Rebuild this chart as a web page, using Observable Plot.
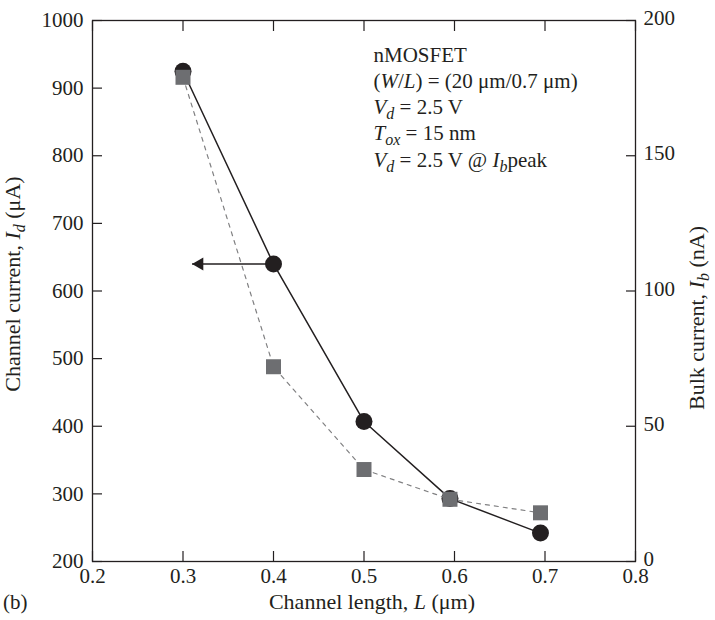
<!DOCTYPE html>
<html><head><meta charset="utf-8">
<script src="https://cdn.jsdelivr.net/npm/d3@7"></script>
<script src="https://cdn.jsdelivr.net/npm/@observablehq/plot@0.6"></script>
<style>
html,body{margin:0;padding:0;background:#fff;}
#chart{width:715px;height:620px;}
</style></head><body><div id="chart"></div>
<script>
// ---- data ----
const channelLength = [0.3, 0.4, 0.5, 0.595, 0.695];      // L (µm)
const channelCurrent = [925, 640, 407, 293, 242];         // Id (µA), left axis
const bulkCurrent = [179, 72, 34, 23, 18];                // Ib (nA), right axis
const xTicks = [0.2, 0.3, 0.4, 0.5, 0.6, 0.7, 0.8];
const idTicks = [200, 300, 400, 500, 600, 700, 800, 900, 1000];
const ibTicks = [0, 50, 100, 150, 200];
const idDomain = [200, 1000];
const ibDomain = [0, 200];
const arrowTail = 0.4, arrowTip = 0.31, arrowLevel = 640;
const annotationLines = [
  "nMOSFET",
  "(<i>W</i>/<i>L</i>) = (20 μm/0.7 μm)",
  "<i>V</i><sub>d</sub> = 2.5 V",
  "<i>T</i><sub>ox</sub> = 15 nm",
  "<i>V</i><sub>d</sub> = 2.5 V @ <i>I</i><sub>b</sub>peak"
];
const annotationX = 0.5105;
const annotationY = [938, 900, 861, 823, 784];
const xTitle = "Channel length, <i>L</i> (μm)";
const yTitle = "Channel current, <i>I</i><sub>d</sub> (μA)";
const y2Title = "Bulk current, <i>I</i><sub>b</sub> (nA)";
const panelLabel = "(b)";

// ---- derived ----
const ink = "#231f20";
const grey = "#6d6e71";
const ibToY = v => idDomain[0] + (v - ibDomain[0]) * (idDomain[1] - idDomain[0]) / (ibDomain[1] - ibDomain[0]);
const yToIb = v => ibDomain[0] + (v - idDomain[0]) * (ibDomain[1] - ibDomain[0]) / (idDomain[1] - idDomain[0]);
const idData = channelLength.map((x, i) => ({x, y: channelCurrent[i]}));
const ibData = channelLength.map((x, i) => ({x, y: ibToY(bulkCurrent[i])}));
const arrowData = [{x1: arrowTail, x2: arrowTip, y: arrowLevel}];

const plot = Plot.plot({
  width: 715, height: 620,
  marginLeft: 92, marginRight: 80, marginTop: 20, marginBottom: 59,
  style: {fontFamily: "'Liberation Serif','Times New Roman',serif", fontSize: "21px", color: ink, background: "#fff", overflow: "visible"},
  x: {domain: [0.2, 0.8]},
  y: {domain: idDomain},
  marks: [
    Plot.axisX(xTicks, {anchor: "bottom", tickSize: -10, tickPadding: 17, tickFormat: d3.format(".1f"), label: null, strokeWidth: 1.2}),
    Plot.axisX(xTicks, {anchor: "top", tickSize: -10, tickFormat: () => "", label: null, strokeWidth: 1.2}),
    Plot.axisY(idTicks, {anchor: "left", tickSize: -10, tickPadding: 19, tickFormat: d => String(d), label: null, strokeWidth: 1.2}),
    Plot.axisY(ibTicks.map(ibToY), {anchor: "right", tickSize: -10, tickFormat: () => "", label: null, strokeWidth: 1.2}),
    Plot.axisY(ibTicks.map(ibToY), {anchor: "right", tickSize: 0, tickPadding: 8, dy: -2, tickFormat: d => String(Math.round(yToIb(d))), label: null}),
    Plot.frame({stroke: ink, strokeWidth: 1.3}),
    Plot.line(idData, {x: "x", y: "y", stroke: ink, strokeWidth: 1.5}),
    Plot.link(arrowData, {x1: "x1", x2: "x2", y1: "y", y2: "y", stroke: ink, strokeWidth: 1.5}),
    Plot.dot(arrowData, {x: "x2", y: "y", symbol: "triangle", r: 4.8, fill: ink, stroke: "none", rotate: -90, dx: 7.5}),
    Plot.dot(idData, {x: "x", y: "y", r: 8.5, fill: ink, stroke: "none"}),
    Plot.line(ibData, {x: "x", y: "y", stroke: "#808082", strokeWidth: 1.2, strokeDasharray: "4,5"}),
    Plot.dot(ibData, {x: "x", y: "y", symbol: "square", r: 8.46, fill: grey, stroke: "none"}),
    Plot.text(annotationLines, {x: annotationX, y: (d, i) => annotationY[i], text: d => d, textAnchor: "start", lineAnchor: "bottom", className: "annot"})
  ]
});
document.getElementById("chart").appendChild(plot);

// rich-text helper: <i>..</i> italic, <sub>..</sub> subscript
function richText(sel, markup, subSize) {
  sel.text(null);
  const re = /(<i>(.*?)<\/i><sub>(.*?)<\/sub>)|(<i>(.*?)<\/i>)|(<sub>(.*?)<\/sub>)|([^<]+)/g;
  let m, shift = 0;
  const add = (s, italic, sub) => {
    const t = sel.append("tspan").text(s);
    if (italic) t.attr("font-style", "italic");
    const want = sub ? 5 : 0;
    if (want !== shift) { t.attr("dy", want - shift); shift = want; }
    if (sub) t.attr("font-size", subSize || "16px");
  };
  while ((m = re.exec(markup))) {
    if (m[1]) { add(m[2], true, false); add(m[3], true, true); }
    else if (m[4]) add(m[5], true, false);
    else if (m[6]) add(m[7], false, true);
    else add(m[8], false, false);
  }
}

const svg = d3.select(plot);
svg.selectAll(".annot text").each(function(d, i) {
  richText(d3.select(this), annotationLines[i]);
});
svg.selectAll(".annot text").attr("dy", null);

const titles = svg.append("g").attr("fill", ink).attr("font-size", "22px").attr("text-anchor", "middle");
richText(titles.append("text").attr("x", 372).attr("y", 609), xTitle, "16px");
titles.append("text").attr("x", 3).attr("y", 609).attr("text-anchor", "start").attr("font-size", "21px").text(panelLabel);
richText(titles.append("text").attr("transform", "translate(20,284) rotate(-90)"), yTitle, "16px");
richText(titles.append("text").attr("transform", "translate(704,318) rotate(-90)"), y2Title, "16px");
</script>
</body></html>
